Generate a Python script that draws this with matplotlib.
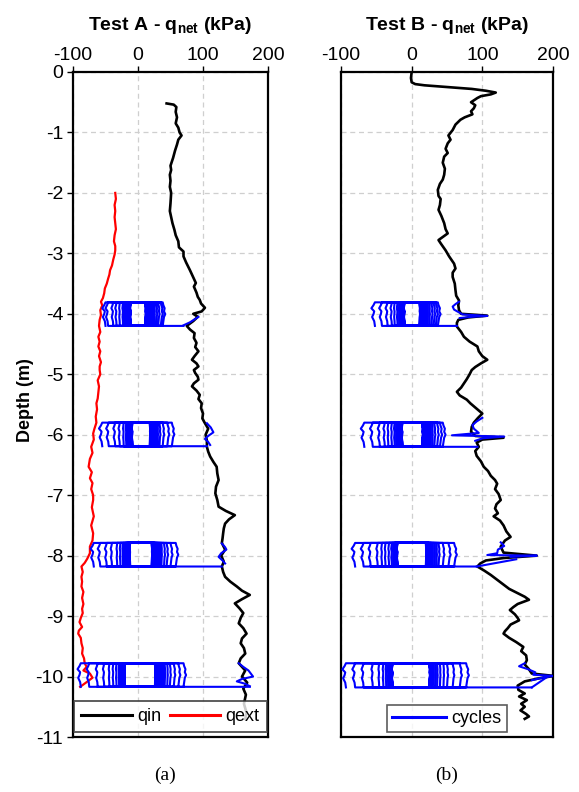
import matplotlib
matplotlib.use('Agg')
import matplotlib.pyplot as plt
from matplotlib.lines import Line2D

plt.rcParams['font.family'] = ['Liberation Sans', 'DejaVu Sans']
plt.rcParams['axes.unicode_minus'] = False
plt.rcParams['mathtext.fontset'] = 'custom'
plt.rcParams['mathtext.rm'] = 'Liberation Sans'
plt.rcParams['mathtext.bf'] = 'Liberation Sans:bold'

# ---------------- Test A data ----------------
A_qin_depth = [-0.52, -0.54, -0.58, -0.66, -0.75, -0.85, -0.92, -1.0, -1.05, -1.12, -1.2, -1.3, -1.42, -1.55, -1.62,
               -1.7, -1.8, -1.9, -2.0, -2.17, -2.3, -2.4, -2.5, -2.61, -2.7, -2.8, -2.9, -2.97, -3.05, -3.15, -3.28,
               -3.35, -3.49, -3.55, -3.65, -3.72, -3.77, -3.83, -3.9, -3.96, -4.0, -4.05, -4.12, -4.2, -4.26, -4.32,
               -4.4, -4.48, -4.55, -4.62, -4.7, -4.76, -4.82, -4.87, -4.93, -4.98, -5.04, -5.09, -5.15, -5.2, -5.27,
               -5.34, -5.41, -5.48, -5.56, -5.65, -5.73, -5.81, -5.9, -6.0, -6.1, -6.2, -6.28, -6.36, -6.45, -6.53,
               -6.64, -6.75, -6.86, -6.97, -7.08, -7.19, -7.26, -7.33, -7.4, -7.47, -7.55, -7.63, -7.72, -7.79, -7.9,
               -8.0, -8.1, -8.18, -8.27, -8.35, -8.43, -8.51, -8.58, -8.65, -8.72, -8.79, -8.87, -8.95, -9.03, -9.12,
               -9.2, -9.29, -9.37, -9.45, -9.53, -9.62, -9.7, -9.78, -9.9, -10.0, -10.1, -10.2, -10.3, -10.45, -10.6,
               -10.7]
A_qin_q = [44, 55, 59, 58, 60, 58, 62, 64, 67, 62, 60, 57, 54, 50, 51,
           49, 50, 49, 51, 50, 49, 51, 53, 56, 58, 62, 63, 70, 70, 74, 80,
           83, 89, 86, 90, 92, 95, 97, 103, 98, 85, 92, 85, 75, 80, 87,
           86, 90, 88, 93, 87, 83, 90, 93, 86, 88, 92, 93, 86, 83, 90,
           95, 93, 98, 97, 100, 99, 103, 108, 104, 106, 106, 108, 111, 116, 121,
           122, 124, 120, 119, 122, 124, 135, 149, 140, 134, 132, 131, 130, 129, 134,
           128, 132, 129, 131, 134, 142, 152, 160, 172, 160, 149, 156, 162, 158, 155,
           162, 167, 160, 158, 163, 165, 158, 155, 165, 160, 168, 162, 166, 163, 167,
           165]

A_qext_depth = [-2.0, -2.1, -2.2, -2.3, -2.4, -2.5, -2.6, -2.7, -2.8, -2.88, -2.95, -3.02, -3.1, -3.2, -3.28, -3.35,
                -3.42, -3.5, -3.58, -3.66, -3.74, -3.8, -3.86, -3.94, -4.02, -4.1, -4.2, -4.3, -4.38, -4.46, -4.54,
                -4.62, -4.7, -4.8, -4.87, -4.93, -5.0, -5.1, -5.2, -5.3, -5.4, -5.48, -5.58, -5.7, -5.8, -5.9, -5.98,
                -6.08, -6.2, -6.3, -6.4, -6.53, -6.62, -6.72, -6.8, -6.9, -7.0, -7.08, -7.2, -7.35, -7.5, -7.63, -7.75,
                -7.85, -7.96, -8.05, -8.12, -8.18, -8.27, -8.35, -8.43, -8.51, -8.6, -8.7, -8.8, -8.88, -8.95, -9.03,
                -9.1, -9.18, -9.24, -9.29, -9.36, -9.45, -9.53, -9.62, -9.7, -9.78, -9.84, -9.9, -9.95, -10.02, -10.1,
                -10.17]
A_qext_q = [-35, -34, -36, -35, -36, -35, -34, -36, -37, -35, -35, -36, -38, -40, -43, -44,
            -46, -48, -51, -52, -54, -57, -55, -58, -57, -59, -60, -58, -61, -59, -61,
            -58, -60, -57, -59, -59, -58, -62, -60, -61, -62, -64, -63, -65, -64, -67, -69,
            -68, -72, -70, -74, -76, -71, -74, -70, -72, -69, -69, -71, -68, -72, -69, -70,
            -74, -74, -78, -82, -87, -85, -87, -86, -87, -84, -86, -84, -86, -85, -88,
            -90, -86, -91, -92, -88, -87, -85, -86, -83, -82, -79, -84, -74, -70, -80,
            -89]

A_block_top = [-3.81, -5.80, -7.79, -9.78]
A_block_bot = [-4.20, -6.19, -8.18, -10.17]
A_block_end_q = [70, 106, 129, 172]

A1_left = [-50, -46, -38, -33, -28, -23, -20, -18, -16, -15, -14, -13.5, -13, -12.5, -12, -11.7, -11.4, -11]
A1_right = [38, 35, 31, 28, 25, 22, 20, 18, 17, 16, 15, 14, 13.5, 13, 12.5, 12, 11.5, 11]
A2_left = [-55, -45, -35, -28, -22, -18, -16, -14, -13, -12, -11, -10.5, -10, -9.7, -9.4, -9, -8.7, -8.5]
A2_right = [52, 45, 38, 33, 30, 27, 25, 23, 22, 21.5, 21, 20.5, 20, 19.5, 19, 18.7, 18.3, 18]
A3_left = [-68, -58, -48, -40, -32, -27, -23, -20, -18, -16, -15, -14, -13.5, -13, -12.7, -12.4, -12.2, -12]
A3_right = [58, 50, 44, 40, 36, 33, 30, 28, 26, 25, 24, 23, 22.5, 22, 21.7, 21.4, 21.2, 21]
A4_left = [-88, -75, -62, -52, -44, -38, -33, -29, -26, -24, -23, -22, -21.5, -21, -20.7, -20.4, -20.2, -20]
A4_right = [70, 62, 55, 49, 45, 41, 38, 35, 32, 30, 29, 28, 27.5, 27, 26.7, 26.4, 26.2, 26]

A2_pre_q = [106, 112, 116, 108, 103, 108, 111]
A2_pre_d = [-5.81, -5.88, -5.96, -6.02, -6.07, -6.12, -6.17]
A3_pre_q = [129, 134, 136, 128, 124, 130, 134]
A3_pre_d = [-7.80, -7.86, -7.90, -7.96, -8.02, -8.08, -8.13]
A4_pre_q = [155, 162, 170, 177, 160, 152, 165, 172]
A4_pre_d = [-9.78, -9.84, -9.90, -10.0, -10.04, -10.08, -10.12, -10.16]
A1_post_q = [70, 80, 93]
A1_post_d = [-4.19, -4.14, -4.05]

# ---------------- Test B data ----------------
B_qin_depth = [0.0, -0.1, -0.17, -0.2, -0.22, -0.24, -0.26, -0.28, -0.31, -0.34, -0.37, -0.40, -0.43, -0.47, -0.5,
               -0.55, -0.6, -0.65, -0.7, -0.75, -0.79, -0.87, -0.96, -1.05, -1.12, -1.18, -1.27, -1.34, -1.4, -1.5,
               -1.6, -1.7, -1.78, -1.85, -1.95, -2.05, -2.1, -2.2, -2.28, -2.38, -2.5, -2.6, -2.67, -2.72, -2.78,
               -2.85, -2.95, -3.05, -3.17, -3.25, -3.32, -3.39, -3.5, -3.61, -3.7, -3.78, -3.86, -3.94, -4.0, -4.03,
               -4.06, -4.1, -4.15, -4.21, -4.3, -4.38, -4.46, -4.54, -4.62, -4.7, -4.76, -4.82, -4.88, -4.93, -5.0,
               -5.08, -5.15, -5.22, -5.29, -5.35, -5.42, -5.48, -5.55, -5.6, -5.65, -5.72, -5.8, -5.87, -5.95, -6.02,
               -6.05, -6.08, -6.13, -6.2, -6.27, -6.35, -6.44, -6.53, -6.6, -6.68, -6.75, -6.81, -6.9, -6.98, -7.08,
               -7.15, -7.22, -7.3, -7.35, -7.42, -7.5, -7.6, -7.69, -7.75, -7.85, -7.95, -8.0, -8.04, -8.08, -8.13,
               -8.18, -8.25, -8.32, -8.4, -8.48, -8.55, -8.62, -8.68, -8.73, -8.8, -8.85, -8.9, -8.97, -9.03, -9.07,
               -9.14, -9.2, -9.25, -9.29, -9.36, -9.43, -9.51, -9.58, -9.65, -9.73, -9.8, -9.88, -9.95, -9.99,
               -10.03, -10.08, -10.15, -10.22, -10.28, -10.33, -10.39, -10.45, -10.5, -10.56, -10.62, -10.66, -10.7]
B_qin_q = [0, -1, 0, 5, 18, 40, 60, 85, 105, 119, 112, 98, 93, 88, 84,
           90, 88, 84, 86, 75, 69, 62, 58, 52, 55, 51, 48, 51, 46, 44,
           47, 46, 44, 40, 37, 38, 41, 40, 38, 42, 46, 48, 51, 45, 38,
           42, 48, 53, 60, 62, 58, 58, 61, 62, 63, 67, 66, 67, 70, 107,
           80, 66, 64, 64, 70, 74, 82, 93, 95, 100, 107, 98, 90, 85, 82,
           78, 74, 70, 64, 68, 78, 83, 90, 95, 100, 94, 88, 85, 84, 90,
           130, 100, 92, 95, 90, 92, 98, 102, 108, 112, 118, 121, 118, 123, 126,
           120, 118, 122, 116, 125, 130, 134, 140, 132, 126, 130, 177, 130, 105, 97,
           93, 103, 112, 121, 130, 138, 150, 160, 166, 150, 144, 139, 146, 150, 152,
           140, 136, 132, 130, 138, 148, 158, 155, 162, 163, 160, 166, 170, 201,
           180, 160, 150, 151, 160, 152, 163, 155, 160, 154, 162, 166, 160]

B_block_top = [-3.81, -5.80, -7.79, -9.78]
B_block_bot = [-4.20, -6.20, -8.18, -10.18]
B_block_end_q = [64, 93, 92, 170]

B1_left = [-52, -42, -34, -28, -24, -20, -17, -15, -14, -13, -12.5, -12, -11.5, -11, -10.7, -10.4, -10.2, -10]
B1_right = [37, 34, 31, 28, 25, 22, 20, 18, 16.5, 15, 14, 13.5, 13, 12.5, 12, 11.7, 11.3, 11]
B2_left = [-67, -55, -45, -38, -33, -28, -24, -21, -19, -17, -16, -15, -14.5, -14, -13.7, -13.4, -13.2, -13]
B2_right = [44, 40, 36, 32, 29, 26, 24, 22, 20, 19, 18, 17, 16.5, 16, 15.7, 15.4, 15.2, 15]
B3_left = [-80, -68, -58, -48, -42, -37, -32, -28, -25, -23.5, -22.5, -22, -21.5, -21, -20.7, -20.4, -20.2, -20]
B3_right = [60, 52, 44, 38, 35, 32, 29, 27, 25, 24, 23, 22, 21.5, 21, 20.7, 20.4, 20.2, 20]
B4_left = [-93, -80, -68, -55, -46, -40, -36, -33, -31, -30, -29, -28.5, -28, -27.7, -27.5, -27.3, -27.1, -27]
B4_right = [77, 68, 58, 50, 45, 40, 36, 33, 30, 28.5, 27.5, 27, 26.5, 26, 25.7, 25.4, 25.2, 25]

B1_pre_q = [67, 62, 58, 60, 66, 72, 107, 85, 68]
B1_pre_d = [-3.80, -3.84, -3.88, -3.93, -3.97, -4.01, -4.035, -4.05, -4.07]
B2_pre_q = [100, 92, 86, 88, 95, 57, 131, 100, 90]
B2_pre_d = [-5.72, -5.78, -5.84, -5.90, -5.97, -6.01, -6.03, -6.06, -6.10]
B3_pre_q = [126, 131, 122, 121, 107, 177, 140]
B3_pre_d = [-7.78, -7.84, -7.90, -7.96, -7.99, -8.00, -8.02]
B4_pre_q = [160, 152, 165, 175, 172, 201, 185, 170]
B4_pre_d = [-9.78, -9.83, -9.88, -9.93, -9.97, -9.99, -10.02, -10.06]
B3_post_q = [92, 120, 148]
B3_post_d = [-8.18, -8.12, -8.06]
B4_post_q = [170, 190]
B4_post_d = [-10.18, -10.02]

# shape of loop sides (fraction of block height from the top, kPa offset)
SIDE_FRAC = [0.0, 0.12, 0.25, 0.38, 0.5, 0.62, 0.8, 1.0]
LEFT_OFF = [0, -2, -5, -1, -2, -4, -1, 0]
RIGHT_OFF = [0, 1, 3, 2, 4, 2, 1, 0]

BLUE = '#0000FF'
LW_BLUE = 1.5


def loop_path(lefts, rights, top, bot, end_q):
    qs, ds = [], []
    h = top - bot
    for i in range(len(lefts)):
        ql, qr = lefts[i], rights[i]
        s = max(0.2, 1.0 - 0.2 * i)
        for f, o in zip(SIDE_FRAC[::-1], LEFT_OFF[::-1]):
            qs.append(ql + o * s)
            ds.append(top - f * h)
        for f, o in zip(SIDE_FRAC, RIGHT_OFF):
            qs.append(qr + o * s)
            ds.append(top - f * h)
    qs.append(end_q)
    ds.append(bot)
    return qs, ds


fig = plt.figure(figsize=(5.79, 7.92), dpi=100)
axA = fig.add_axes([73 / 579, 55 / 792, 195 / 579, 665 / 792])
axB = fig.add_axes([341 / 579, 55 / 792, 212 / 579, 665 / 792])

for ax, title in [(axA, r'Test A - $\mathbf{q}_{\mathbf{net}}$ (kPa)'),
                  (axB, r'Test B - $\mathbf{q}_{\mathbf{net}}$ (kPa)')]:
    ax.set_xlim(-100, 200)
    ax.set_ylim(-11, 0)
    ax.set_xticks([-100, 0, 100, 200])
    ax.set_yticks(list(range(-11, 1)))
    ax.xaxis.tick_top()
    ax.xaxis.set_label_position('top')
    ax.set_xlabel(title, fontsize=14, fontweight='bold', labelpad=12)
    ax.grid(True, ls=(0, (4, 3)), color='#cfcfcf', lw=0.9)
    ax.set_axisbelow(True)
    ax.tick_params(axis='x', direction='out', length=4, width=1, labelsize=14, pad=2)
    for s in ax.spines.values():
        s.set_linewidth(1.6)

axA.tick_params(axis='y', direction='out', length=4, width=1, labelsize=14, pad=3)
axB.tick_params(axis='y', left=False, labelleft=False)

# Test A
axA.plot(A_qin_q, A_qin_depth, color='black', lw=1.9, zorder=3)
axA.plot(A_qext_q, A_qext_depth, color='#FF0000', lw=1.6, zorder=3)
A_lefts = [A1_left, A2_left, A3_left, A4_left]
A_rights = [A1_right, A2_right, A3_right, A4_right]
for i in range(4):
    qs, ds = loop_path(A_lefts[i], A_rights[i], A_block_top[i], A_block_bot[i], A_block_end_q[i])
    axA.plot(qs, ds, color=BLUE, lw=LW_BLUE, zorder=4)
for pq, pd in [(A2_pre_q, A2_pre_d), (A3_pre_q, A3_pre_d), (A4_pre_q, A4_pre_d), (A1_post_q, A1_post_d)]:
    axA.plot(pq, pd, color=BLUE, lw=LW_BLUE, zorder=4)

hA = [Line2D([], [], color='black', lw=2.2), Line2D([], [], color='#FF0000', lw=2.2)]
legA = axA.legend(hA, ['qin', 'qext'], loc='lower center', ncol=2, fontsize=13, frameon=True,
                  fancybox=False, edgecolor='#333333', handlelength=2.8,
                  columnspacing=0.45, handletextpad=0.3, borderaxespad=0.25, borderpad=0.4)
legA.get_frame().set_linewidth(1.4)
legA.set_zorder(10)

# Test B
axB.plot(B_qin_q, B_qin_depth, color='black', lw=1.9, zorder=3)
B_lefts = [B1_left, B2_left, B3_left, B4_left]
B_rights = [B1_right, B2_right, B3_right, B4_right]
for i in range(4):
    qs, ds = loop_path(B_lefts[i], B_rights[i], B_block_top[i], B_block_bot[i], B_block_end_q[i])
    axB.plot(qs, ds, color=BLUE, lw=LW_BLUE, zorder=4)
for pq, pd in [(B1_pre_q, B1_pre_d), (B2_pre_q, B2_pre_d), (B3_pre_q, B3_pre_d), (B4_pre_q, B4_pre_d),
               (B3_post_q, B3_post_d), (B4_post_q, B4_post_d)]:
    axB.plot(pq, pd, color=BLUE, lw=LW_BLUE, zorder=4)

hB = [Line2D([], [], color=BLUE, lw=2.2)]
legB = axB.legend(hB, ['cycles'], loc='lower center', fontsize=13, frameon=True,
                  fancybox=False, edgecolor='#333333', handlelength=3.0, handletextpad=0.3,
                  borderaxespad=0.25, borderpad=0.3)
legB.get_frame().set_linewidth(1.2)
legB.set_zorder(10)

fig.text(25 / 579, 1 - 400 / 792, 'Depth (m)', rotation=90, fontsize=13, fontweight='bold',
         ha='center', va='center')
fig.text(165 / 579, 1 - 775 / 792, '(a)', fontsize=14, family=['Liberation Serif', 'DejaVu Serif'],
         ha='center', va='center')
fig.text(447 / 579, 1 - 775 / 792, '(b)', fontsize=14, family=['Liberation Serif', 'DejaVu Serif'],
         ha='center', va='center')

fig.savefig('out.png', dpi=100)
